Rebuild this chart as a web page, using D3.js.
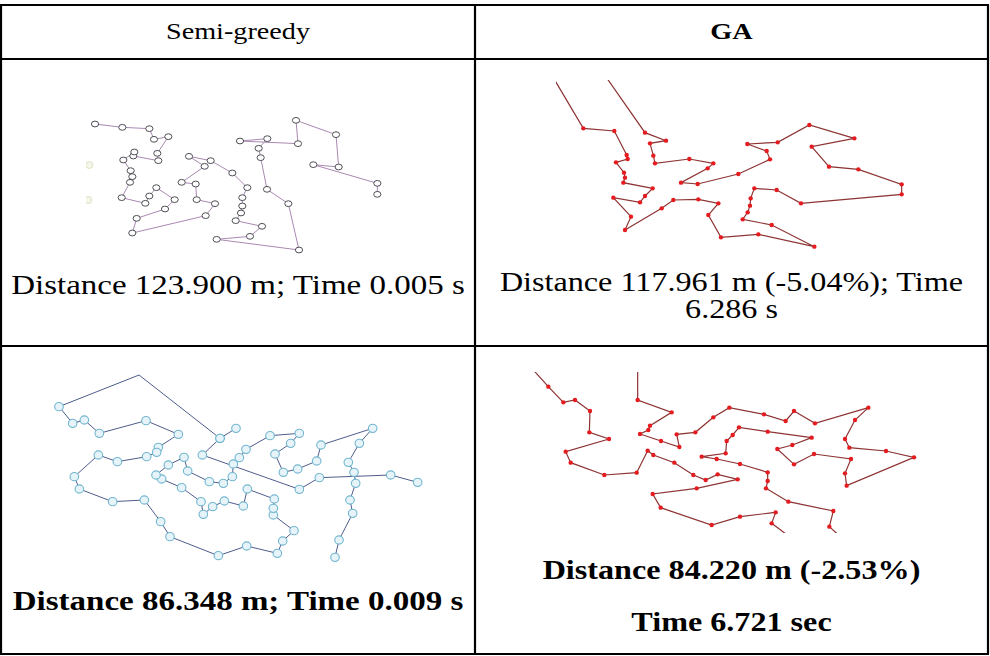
<!doctype html>
<html lang="en">
<head>
  <meta charset="utf-8">
  <title>Semi-greedy vs GA routes</title>
  <style>
    body { margin: 0; background: #fff; }
    #chart { width: 990px; height: 656px; }
    .cell-text { font-family: "Liberation Serif", "Times New Roman", serif; fill: #000; }
  </style>
</head>
<body>
  <div id="chart"></div>

  <script src="https://d3js.org/d3.v7.min.js"></script>
  <script>
    // ---- data (route coordinates in map units) ----

    // semi-greedy, first instance
    const semiGreedy1 = [[45,72],[127,82],[208,86],[222,118],[265,110],[232,160],[235,182],[160,168],[163,156],[130,180],
      [152,212],[157,230],[150,247],[125,293],[196,310],[208,288],[229,263],[284,299],[255,327],[170,355],[157,399],
      [377,347],[405,311],[350,299],[347,252],[305,247],[374,199],[327,169],[392,182],[457,219],[502,263],[487,293],
      [487,318],[483,339],[467,362],[546,379],[510,409],[410,418],[657,450],[625,311],[561,268],[542,173],[536,145],
      [562,116],[480,123],[654,131],[648,61],[768,104],[776,201],[700,194],[892,250],[892,283]];
    // faint half-cut nodes on the left border of the first picture
    const semiGreedy1Ghost = [[28,195],[25,300]];

    // GA, first instance (both ends leave the picture at the top)
    const ga1 = [[-10,-30],[85,130],[178,138],[215,210],[218,222],[183,232],[207,263],[210,278],[205,293],[293,310],
      [270,333],[255,352],[175,338],[228,395],[210,435],[320,370],[355,345],[430,343],[490,355],[460,390],[498,457],
      [610,448],[778,485],[650,420],[563,403],[578,382],[585,362],[587,340],[598,310],[665,315],[738,355],[1040,328],
      [1040,298],[910,253],[822,245],[770,185],[898,160],[763,120],[668,172],[577,177],[635,198],[645,223],[550,267],
      [428,297],[378,293],[458,250],[475,235],[403,222],[300,235],[295,212],[285,175],[333,167],[270,143],[149,-30]];

    // semi-greedy, second instance (two strokes that share a node)
    const semiGreedy2a = [[588,100],[540,130],[297,-60],[57,35],[98,85],[133,75],[178,115],[318,77],[415,118],[355,157],
      [350,172],[320,185],[232,200],[175,180],[103,245],[118,282],[218,320],[313,315],[362,380],[390,425],[535,482],
      [620,453],[712,475],[728,438],[762,407],[700,360],[700,340],[703,312],[622,282],[610,333],[553,318],[518,335],
      [490,358],[483,320],[425,278],[365,252],[348,240],[385,210],[432,187],[443,228],[508,260],[550,265],[577,245],
      [580,207],[598,188],[618,163],[690,122],[778,115],[752,145],[705,177],[730,232],[773,222],[830,198],[843,150],
      [998,100],[958,145],[925,202],[942,232],[947,265],[930,315],[938,355],[897,435],[885,487]];
    const semiGreedy2b = [[540,130],[487,180],[778,283],[838,248],[1052,240],[1133,262]];

    // GA, second instance (picture cut at top and bottom)
    const ga2 = [[-20,-45],[25,5],[70,52],[105,45],[150,78],[148,142],[207,162],[77,200],[92,233],[193,270],[290,263],
      [323,197],[340,210],[403,233],[460,270],[497,285],[533,268],[593,283],[470,310],[338,327],[362,368],[515,420],
      [600,395],[707,382],[695,415],[782,480],[928,480],[868,425],[880,378],[745,350],[678,310],[683,288],[683,262],
      [600,237],[530,222],[485,215],[557,205],[560,168],[578,150],[597,127],[683,140],[815,158],[757,180],[712,192],
      [762,238],[822,207],[933,222],[915,265],[920,302],[1122,217],[1038,198],[928,188],[915,162],[945,105],[985,68],
      [825,115],[762,78],[737,108],[672,88],[568,68],[520,97],[466,142],[410,148],[418,186],[363,168],[300,147],
      [325,135],[330,122],[395,82],[293,45],[293,-45]];

    // table texts
    const headers = ['Semi-greedy', 'GA'];
    const row1Captions = [['Distance 123.900 m; Time 0.005 s'], ['Distance 117.961 m (-5.04%); Time', '6.286 s']];
    const row2Captions = [['Distance 86.348 m; Time 0.009 s'], ['Distance 84.220 m (-2.53%)', 'Time 6.721 sec']];

    // ---- layout ----
    const width = 990, height = 656;
    const colX = [1, 475, 988];       // table vertical rules
    const rowY = [5, 59, 346, 654];   // table horizontal rules
    const stretchX = 1.2;             // the scanned table is a little wider than tall

    const svg = d3.select('#chart')
      .append('svg')
      .attr('width', width)
      .attr('height', height);

    const defs = svg.append('defs');

    // draws one route picture: box = [x0, y0, x1, y1] in px, domain = [maxX, maxY] in map units
    function drawPanel(id, routes, box, domain, clip, style) {
      const x = d3.scaleLinear().domain([0, domain[0]]).range([box[0], box[2]]);
      const y = d3.scaleLinear().domain([0, domain[1]]).range([box[1], box[3]]);

      defs.append('clipPath').attr('id', id)
        .append('rect')
        .attr('x', clip[0]).attr('y', clip[1])
        .attr('width', clip[2] - clip[0]).attr('height', clip[3] - clip[1]);

      const g = svg.append('g').attr('clip-path', `url(#${id})`);
      const line = d3.line().x(d => x(d[0])).y(d => y(d[1]));

      g.selectAll('path.route')
        .data(routes)
        .join('path')
        .attr('class', 'route')
        .attr('d', line)
        .attr('fill', 'none')
        .attr('stroke', style.line)
        .attr('stroke-width', style.lineWidth);

      // nodes (skip points that sit outside the picture)
      const nodes = routes.flat().filter(d => d[1] >= 0 && d[1] <= domain[1]);
      g.selectAll('ellipse.node')
        .data(nodes)
        .join('ellipse')
        .attr('class', 'node')
        .attr('cx', d => x(d[0]))
        .attr('cy', d => y(d[1]))
        .attr('rx', style.rx)
        .attr('ry', style.ry)
        .attr('fill', style.fill)
        .attr('stroke', style.stroke)
        .attr('stroke-width', style.strokeWidth);

      return { g, x, y };
    }

    const purple = { line: '#a989b2', lineWidth: 1, rx: 3.6, ry: 2.9, fill: '#fff', stroke: '#3c3c44', strokeWidth: 0.9 };
    const red = { line: '#8e3434', lineWidth: 1.2, rx: 2.2, ry: 2.2, fill: '#e41b1f', stroke: 'none', strokeWidth: 0 };
    const blue = { line: '#4f5d8e', lineWidth: 1, rx: 4.3, ry: 4.1, fill: '#e6f4f9', stroke: '#72b6cf', strokeWidth: 1.1 };

    // picture 1: semi-greedy
    const p1 = drawPanel('clipA', [semiGreedy1], [80, 100, 400, 260], [960, 480], [86, 98, 400, 264], purple);
    p1.g.selectAll('circle.ghost')
      .data(semiGreedy1Ghost)
      .join('circle')
      .attr('cx', d => p1.x(d[0]))
      .attr('cy', d => p1.y(d[1]))
      .attr('r', 3.5)
      .attr('fill', '#f3f6ea')
      .attr('stroke', '#dbe4bf')
      .attr('stroke-width', 1);

    // picture 2: GA
    drawPanel('clipB', [ga1], [555, 85, 925, 255], [1110, 510], [556, 80, 960, 300], red);

    // picture 3: semi-greedy
    drawPanel('clipC', [semiGreedy2a, semiGreedy2b], [40, 395, 450, 575], [1230, 540], [20, 373, 470, 590], blue);

    // picture 4: GA
    drawPanel('clipD', [ga2], [540, 385, 930, 535], [1170, 450], [520, 372, 960, 533], red);

    // ---- table rules ----
    const rules = svg.append('g')
      .attr('stroke', '#000')
      .attr('stroke-width', 2.2);

    rules.selectAll('line.h')
      .data(rowY)
      .join('line')
      .attr('x1', colX[0] - 1).attr('x2', colX[2] + 1)
      .attr('y1', d => d).attr('y2', d => d);

    rules.selectAll('line.v')
      .data(colX)
      .join('line')
      .attr('x1', d => d).attr('x2', d => d)
      .attr('y1', rowY[0]).attr('y2', rowY[3]);

    // ---- texts ----
    const centers = [(colX[0] + colX[1]) / 2, (colX[1] + colX[2]) / 2];

    // centred, horizontally stretched text lines
    function caption(lines, cx, baselines, bold, size) {
      svg.append('g').selectAll('text')
        .data(lines)
        .join('text')
        .attr('class', 'cell-text')
        .attr('transform', (d, i) => `translate(${cx},${baselines[i]}) scale(${stretchX},1)`)
        .attr('text-anchor', 'middle')
        .attr('font-size', size)
        .attr('font-weight', bold ? 'bold' : 'normal')
        .text(d => d);
    }

    caption([headers[0]], centers[0], [39], false, 23.5);
    caption([headers[1]], centers[1], [39], true, 23.5);
    caption(row1Captions[0], centers[0], [294], false, 27.5);
    caption(row1Captions[1], centers[1], [291, 318], false, 26.8);
    caption(row2Captions[0], centers[0], [610], true, 27.5);
    caption(row2Captions[1], centers[1], [579, 631], true, 26.8);
  </script>
</body>
</html>
